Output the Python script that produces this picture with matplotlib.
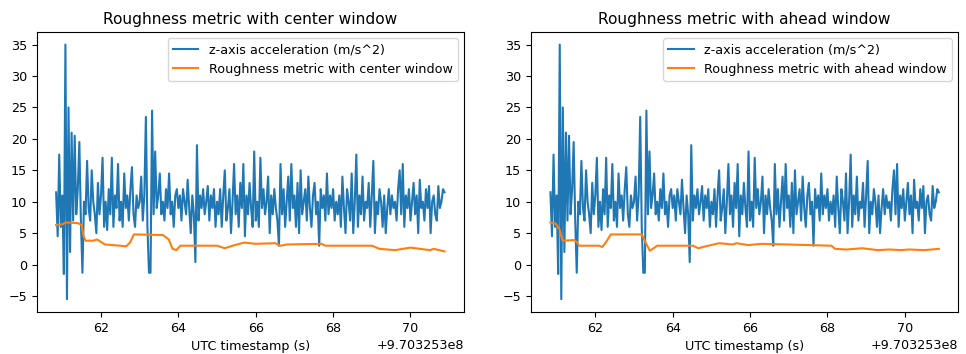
import numpy as np
import matplotlib
matplotlib.use("Agg")
import matplotlib.pyplot as plt

plt.rcParams['font.size'] = 9.2
plt.rcParams['axes.titlesize'] = 11.1
plt.rcParams['lines.linewidth'] = 1.5

# timestamps are seconds after this base (matplotlib shows the +9.703253e8 offset)
T_BASE = 970325300.0
T0 = 60.84
DT = 0.04

# z-axis acceleration (m/s^2), 25 samples per second
z_acc = [
    11.5, 4.5, 17.5, 6,
    # 61
    11, -1.5, 35, -5.5, 25, 2, 21, 7, 20.5, 8, 12, 19.5, 7, -1.3, 10, 8,
    16.5, 9, 7, 15, 10, 8, 5, 13, 8,
    # 62
    11, 17, 6, 10, 5.5, 12, 8, 17, 6, 11, 9, 16, 7, 10, 6, 14.5,
    9, 11, 7, 12, 15.5, 8, 6, 11, 9,
    # 63
    10, 14, 7, 11, 23.5, 6, -1.3, -1.3, 24.5, 8, 18, 9, 11, 14.5, 8, 10,
    7, 12, 9, 14.5, 8, 10, 6, 11, 12,
    # 64
    9, 11, 7, 12, 10, 8, 13.5, 9, 5, 11, 8, 0.4, 19, 7, 11, 9,
    12, 8, 10, 12.5, 7, 11, 9, 12, 6,
    # 65
    10, 8, 12, 6, 11, 15, 7, 9, 12, 5, 10, 16, 8, 11, 6, 13,
    9, 16, 4.5, 11, 8, 13, 9, 6, 18,
    # 66
    7, 10, 6, 17, 9, 12, 8, 10, 14, 5, 11, 8, 12, 9, 7, 3,
    16, 8, 12, 6, 10, 14, 7, 16, 9,
    # 67
    11, 6, 13, 5, 15, 8, 10, 12, 7, 14, 9, 6, 11, 13, 8, 10,
    3, 12, 9, 11, 7, 14.5, 8, 11, 9,
    # 68
    12, 7, 10, 8, 11, 6, 14, 9, 5, 12, 10, 7, 14.5, 5, 10, 17.5,
    6, 11, 8, 14, 7, 10, 9, 13, 6,
    # 69
    11, 16.5, 5, 10, 8, 12, 10, 6, 11, 5, 9, 12, 8, 11, 9, 10,
    7, 12, 15, 8, 16, 6, 11, 9, 12,
    # 70
    7, 10, 13, 8, 11, 5, 13.5, 9, 10, 7, 12, 9, 12.5, 5, 10, 11,
    8, 7, 12.5, 9, 10, 12, 11.5,
]

# roughness metric, centre window (time, value)
center_t = [60.84, 61.0, 61.1, 61.4, 61.5, 61.55, 61.6, 61.8, 61.9, 62.1, 62.5,
            62.65, 62.75, 62.85, 63.6, 63.75, 63.85, 63.95, 64.05, 65.0, 65.2,
            65.4, 65.7, 66.0, 66.5, 66.65, 66.8, 67.7, 67.8, 69.0, 69.2, 69.6,
            70.0, 70.5, 70.6, 70.88]
center_v = [6.3, 6.4, 6.7, 6.6, 6.3, 4.5, 3.8, 3.8, 4.0, 3.2, 3.0,
            2.9, 3.5, 4.8, 4.7, 4.0, 2.5, 2.3, 3.0, 3.0, 2.6,
            3.0, 3.5, 3.3, 3.4, 3.0, 3.2, 3.3, 3.0, 3.0, 2.5, 2.3,
            2.7, 2.3, 2.5, 2.1]

# roughness metric, ahead window (time, value)
ahead_t = [60.84, 60.98, 61.08, 61.15, 61.45, 61.52, 61.58, 62.1, 62.18, 62.28,
           62.4, 63.2, 63.3, 63.41, 63.6, 64.53, 64.66, 64.85, 65.2, 65.55,
           65.65, 65.95, 66.3, 66.95, 68.1, 68.2, 68.5, 68.9, 69.3, 69.6,
           69.9, 70.1, 70.5, 70.88]
ahead_v = [6.7, 6.5, 5.5, 3.8, 3.9, 3.6, 3.0, 3.0, 2.8, 3.6,
           4.8, 4.8, 3.5, 2.2, 3.0, 3.0, 2.6, 2.9, 3.4, 3.2,
           3.4, 3.1, 3.3, 3.2, 3.0, 2.5, 2.4, 2.6, 2.3, 2.4,
           2.3, 2.4, 2.3, 2.5]

t = T_BASE + T0 + np.arange(len(z_acc)) * DT

fig, axs = plt.subplots(1, 2, figsize=(9.66, 3.54), dpi=100)
fig.subplots_adjust(left=0.038, right=0.992, top=0.91, bottom=0.119, wspace=0.157)

panels = [("center", center_t, center_v), ("ahead", ahead_t, ahead_v)]
for ax, (name, rt, rv) in zip(axs, panels):
    ax.plot(t, z_acc, color='#1f77b4', label='z-axis acceleration (m/s^2)')
    ax.plot(T_BASE + np.array(rt), rv, color='#ff7f0e',
            label='Roughness metric with %s window' % name)
    ax.set_title('Roughness metric with %s window' % name)
    ax.set_xlabel('UTC timestamp (s)')
    ax.legend(loc='upper right')

fig.savefig('out.png')
